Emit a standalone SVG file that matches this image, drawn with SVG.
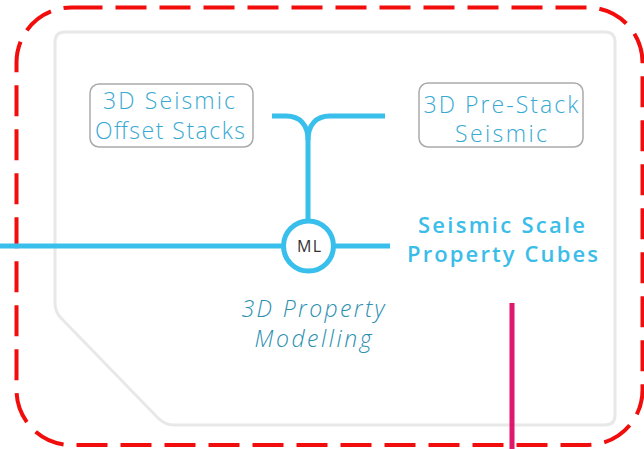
<svg xmlns="http://www.w3.org/2000/svg" width="644" height="449" viewBox="0 0 644 449">
  <defs>
    <style>
      .frame { fill: none; stroke: #f20d0d; stroke-width: 4; stroke-dasharray: 31 13; }
      .panel { fill: #ffffff; stroke: #e8e8e8; stroke-width: 3; }
      .box { fill: #ffffff; stroke: #aaaaaa; stroke-width: 1.5; }
      .flow { fill: none; stroke: #38bfec; stroke-width: 5; stroke-linecap: butt; }
      .src { font-family: "Open Sans", "Noto Sans", sans-serif; font-weight: 300; font-size: 23px; fill: #38a9d3; text-anchor: middle; }
      .out { font-family: "Open Sans", "Noto Sans", sans-serif; font-weight: 600; font-size: 22px; fill: #3bbde9; text-anchor: middle; }
      .step { font-family: "Open Sans", "Noto Sans", sans-serif; font-weight: 300; font-style: italic; font-size: 23px; fill: #2b8fb0; text-anchor: middle; }
      .ml { font-family: "Open Sans", "Noto Sans", sans-serif; font-size: 16px; fill: #333333; text-anchor: middle; }
    </style>
  </defs>

  <rect width="644" height="449" fill="#ffffff"/>

  <!-- dashed outer boundary -->
  <rect class="frame" x="16.5" y="7.5" width="626" height="437.5" rx="55" ry="55"/>

  <!-- light panel with chamfered lower-left corner -->
  <path class="panel" d="M65,32 H605 Q615,32 615,42 V415 Q615,425 605,425 H174 Q165,425 158,418 L61,318 Q55,312 55,303 V42 Q55,32 65,32 Z"/>

  <!-- connectors -->
  <g id="connectors">
    <path class="flow" d="M272,116 H286 C300,116 308,125 308,140 V221"/>
    <path class="flow" d="M385,116 H330 C316,116 308,125 308,140"/>
    <path class="flow" d="M0,246 H283"/>
    <path class="flow" d="M334,246 H390"/>
    <line x1="512" y1="303" x2="512" y2="449" stroke="#e0176b" stroke-width="5"/>
  </g>

  <g id="offset-stacks">
    <rect class="box" x="90" y="84" width="163" height="63" rx="9" ry="9"/>
    <text class="src" x="169" y="109" textLength="132">3D Seismic</text>
    <text class="src" x="170" y="139" textLength="150">Offset Stacks</text>
  </g>

  <g id="pre-stack">
    <rect class="box" x="419" y="83" width="164" height="64" rx="9" ry="9"/>
    <text class="src" x="501" y="113" textLength="155">3D Pre-Stack</text>
    <text class="src" x="501" y="142" textLength="92">Seismic</text>
  </g>

  <g id="ml-node">
    <circle cx="308.5" cy="246" r="25" fill="#ffffff" stroke="#38bfec" stroke-width="5"/>
    <text class="ml" x="309" y="251.5" textLength="24">ML</text>
  </g>

  <g id="property-cubes">
    <text class="out" x="501.5" y="233" textLength="167">Seismic Scale</text>
    <text class="out" x="502.5" y="262" textLength="191">Property Cubes</text>
  </g>

  <g id="property-modelling">
    <text class="step" x="313" y="317" textLength="143">3D Property</text>
    <text class="step" x="313" y="347" textLength="117">Modelling</text>
  </g>
</svg>
